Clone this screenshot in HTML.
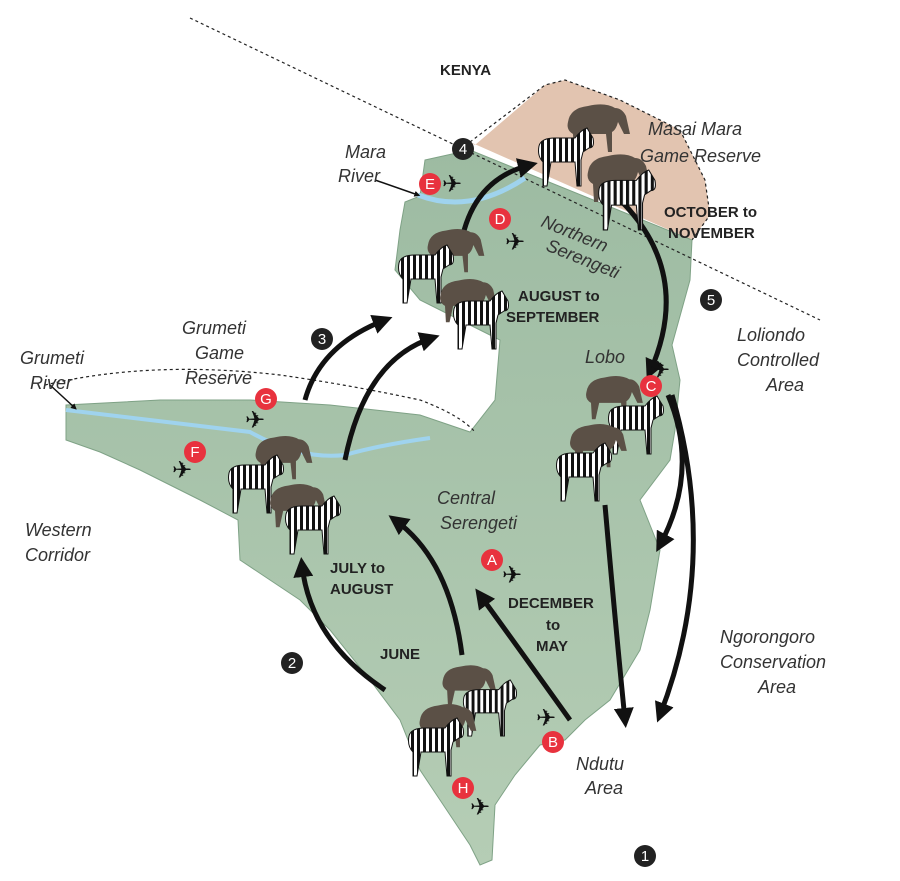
<!DOCTYPE html>
<html><head><meta charset="utf-8"><style>
html,body{margin:0;padding:0;background:#fff;}
svg{display:block;}
text{font-family:"Liberation Sans",sans-serif;}
.it{font-style:italic;font-size:18px;fill:#333;}
.bd{font-weight:bold;font-size:15px;fill:#222;}
.rc text,.bc text{font-size:15px;fill:#fff;text-anchor:middle;}
</style></head><body>
<svg width="900" height="881" viewBox="0 0 900 881">
<defs>
<linearGradient id="g" x1="0" y1="0" x2="0" y2="1"><stop offset="0" stop-color="#9dbba2"/><stop offset="1" stop-color="#b5cdb5"/></linearGradient>
<pattern id="st" width="6" height="10" patternUnits="userSpaceOnUse"><rect width="6" height="10" fill="#fff"/><rect width="3" height="10" fill="#111"/></pattern>
<marker id="ah" viewBox="0 0 10 10" refX="6" refY="5" markerWidth="4" markerHeight="4" orient="auto"><path d="M0,0L10,5L0,10z" fill="#111"/></marker>
<symbol id="wb" viewBox="0 0 70 55" overflow="visible">
<path d="M8,22 Q10,8 28,6 Q45,2 55,8 Q62,8 66,16 L70,34 L64,34 L58,22 Q56,30 52,32 L52,52 L48,52 L46,34 L22,34 L18,52 L14,52 L13,34 Q6,30 8,22z" fill="#5b5046"/>
</symbol>
<symbol id="zb" viewBox="0 0 60 60" overflow="visible">
<path d="M4,18 Q6,10 20,10 L40,10 Q46,2 52,0 L58,10 Q60,20 54,20 L48,24 L46,32 L46,58 L42,58 L40,34 L16,34 L12,58 L8,58 L8,34 Q2,28 4,18z" fill="url(#st)" stroke="#111" stroke-width="1"/>
</symbol>
</defs>
<path d="M475,145 L545,85 L565,80 L620,100 L680,130 L705,180 L710,215 L692,240 L470,142z" fill="#e2c4b0"/>
<path d="M470,142 L545,85 L565,80 L620,100 L680,130 L705,180 L710,215 L692,240" fill="none" stroke="#222" stroke-width="1.2" stroke-dasharray="3,3"/>
<path d="M425,160 L470,150 L692,240 L690,280 L672,345 L680,380 L675,430 L670,460 L640,500 L660,550 L650,610 L640,650 L610,700 L585,720 L565,740 L540,745 L515,775 L495,805 L492,860 L480,865 L470,845 L440,800 L420,770 L400,720 L370,680 L330,630 L300,600 L270,580 L240,560 L238,520 L200,500 L140,470 L100,452 L66,440 L66,405 L160,400 L250,400 L330,405 L420,415 L470,432 L495,400 L500,340 L460,320 L420,300 L395,270 L400,230 L405,202 L420,196z" fill="url(#g)" stroke="#7fa286" stroke-width="1"/>
<path d="M190,18 L820,320" stroke="#222" stroke-width="1.2" stroke-dasharray="3,3" fill="none"/>
<path d="M45,385 Q150,360 280,375 Q350,385 420,400 Q460,415 475,432" stroke="#222" stroke-width="1.2" stroke-dasharray="3,3" fill="none"/>
<path d="M66,410 Q150,420 250,432 Q300,460 345,455 Q380,445 430,438" stroke="#9fd3ee" stroke-width="4" fill="none"/>
<path d="M418,195 Q470,215 525,178" stroke="#9fd3ee" stroke-width="5" fill="none"/>
<g fill="none" stroke="#111" stroke-width="5" marker-end="url(#ah)">
<path d="M460,250 Q470,180 530,165"/>
<path d="M615,195 Q695,270 650,372"/>
<path d="M668,395 Q700,470 660,545"/>
<path d="M672,395 Q720,560 660,715"/>
<path d="M605,505 Q615,620 625,720"/>
<path d="M570,720 Q520,650 480,595"/>
<path d="M462,655 Q450,560 395,520"/>
<path d="M385,690 Q310,640 302,565"/>
<path d="M305,400 Q320,345 385,320"/>
<path d="M345,460 Q365,360 432,338"/>
<path d="M375,180 L418,195" stroke-width="1.5"/>
<path d="M50,385 L75,408" stroke-width="1.5"/>
</g>
<use href="#wb" x="560" y="100" width="70" height="55"/>
<use href="#zb" x="535" y="128" width="60" height="60"/>
<use href="#wb" x="580" y="150" width="70" height="55"/>
<use href="#zb" x="595" y="170" width="62" height="62"/>
<use href="#wb" x="420" y="225" width="65" height="50"/>
<use href="#zb" x="395" y="245" width="60" height="60"/>
<use href="#wb" x="430" y="275" width="70" height="50"/>
<use href="#zb" x="450" y="290" width="60" height="62"/>
<use href="#wb" x="248" y="432" width="65" height="50"/>
<use href="#zb" x="225" y="455" width="60" height="60"/>
<use href="#wb" x="260" y="480" width="70" height="50"/>
<use href="#zb" x="282" y="495" width="60" height="62"/>
<use href="#wb" x="576" y="372" width="70" height="50"/>
<use href="#zb" x="605" y="395" width="60" height="62"/>
<use href="#wb" x="560" y="420" width="70" height="50"/>
<use href="#zb" x="553" y="442" width="60" height="62"/>
<use href="#wb" x="436" y="660" width="60" height="50"/>
<use href="#zb" x="460" y="680" width="58" height="58"/>
<use href="#wb" x="412" y="700" width="65" height="50"/>
<use href="#zb" x="405" y="718" width="60" height="60"/>
<g font-size="24" fill="#111">
<text x="442" y="192">✈</text><text x="505" y="250">✈</text><text x="650" y="378">✈</text>
<text x="502" y="583">✈</text><text x="536" y="726">✈</text><text x="470" y="815">✈</text>
<text x="172" y="478">✈</text><text x="245" y="428">✈</text>
</g>
<g class="rc">
<circle cx="492" cy="560" r="11" fill="#e8323e"/><text x="492" y="565">A</text>
<circle cx="553" cy="742" r="11" fill="#e8323e"/><text x="553" y="747">B</text>
<circle cx="651" cy="386" r="11" fill="#e8323e"/><text x="651" y="391">C</text>
<circle cx="500" cy="219" r="11" fill="#e8323e"/><text x="500" y="224">D</text>
<circle cx="430" cy="184" r="11" fill="#e8323e"/><text x="430" y="189">E</text>
<circle cx="195" cy="452" r="11" fill="#e8323e"/><text x="195" y="457">F</text>
<circle cx="266" cy="399" r="11" fill="#e8323e"/><text x="266" y="404">G</text>
<circle cx="463" cy="788" r="11" fill="#e8323e"/><text x="463" y="793">H</text>
</g>
<g class="bc">
<circle cx="463" cy="149" r="11" fill="#222"/><text x="463" y="154">4</text>
<circle cx="711" cy="300" r="11" fill="#222"/><text x="711" y="305">5</text>
<circle cx="322" cy="339" r="11" fill="#222"/><text x="322" y="344">3</text>
<circle cx="292" cy="663" r="11" fill="#222"/><text x="292" y="668">2</text>
<circle cx="645" cy="856" r="11" fill="#222"/><text x="645" y="861">1</text>
</g>
<text class="bd" x="440" y="75" font-size="17">KENYA</text>
<text class="it" x="648" y="135">Masai Mara</text><text class="it" x="640" y="162">Game Reserve</text>
<text class="bd" x="664" y="217">OCTOBER to</text><text class="bd" x="668" y="238">NOVEMBER</text>
<text class="it" x="345" y="158">Mara</text><text class="it" x="338" y="182">River</text>
<text class="it" x="540" y="226" transform="rotate(22 540 226)">Northern</text>
<text class="it" x="545" y="250" transform="rotate(22 545 250)">Serengeti</text>
<text class="bd" x="518" y="301">AUGUST to</text><text class="bd" x="506" y="322">SEPTEMBER</text>
<text class="it" x="737" y="341">Loliondo</text><text class="it" x="737" y="366">Controlled</text><text class="it" x="766" y="391">Area</text>
<text class="it" x="585" y="363">Lobo</text>
<text class="it" x="182" y="334">Grumeti</text><text class="it" x="195" y="359">Game</text><text class="it" x="185" y="384">Reserve</text>
<text class="it" x="20" y="364">Grumeti</text><text class="it" x="30" y="389">River</text>
<text class="it" x="25" y="536">Western</text><text class="it" x="25" y="561">Corridor</text>
<text class="it" x="437" y="504">Central</text><text class="it" x="440" y="529">Serengeti</text>
<text class="bd" x="330" y="573">JULY to</text><text class="bd" x="330" y="594">AUGUST</text>
<text class="bd" x="508" y="608">DECEMBER</text><text class="bd" x="546" y="630">to</text><text class="bd" x="536" y="651">MAY</text>
<text class="bd" x="380" y="659">JUNE</text>
<text class="it" x="720" y="643">Ngorongoro</text><text class="it" x="720" y="668">Conservation</text><text class="it" x="758" y="693">Area</text>
<text class="it" x="576" y="770">Ndutu</text><text class="it" x="585" y="794">Area</text>
</svg>
</body></html>
